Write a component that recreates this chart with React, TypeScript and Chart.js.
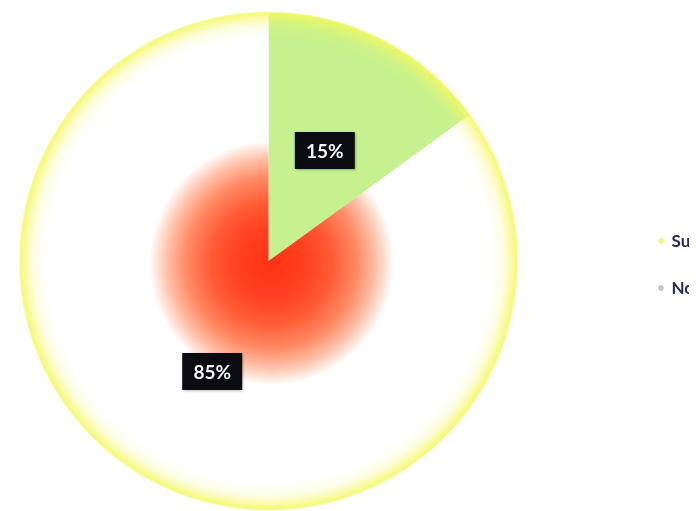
import { useEffect, useRef } from "react";
import { Chart, registerables } from "chart.js";

Chart.register(...registerables);

const categories = ["Sunny", "Not sunny"];
const values = [15, 85];
const valueLabels = ["15%", "85%"];
const legendColors = ["#f6f47e", "#c4c4d0"];
const greenColor = "#c5f28e";
const legendTextColor = "#2b2b5a";

const ringPlugin = {
  id: "ringGlow",
  afterDatasetsDraw(chart: any) {
    const meta = chart.getDatasetMeta(0);
    const arc = meta.data[0];
    if (!arc) return;
    const { x, y, outerRadius } = arc.getProps(["x", "y", "outerRadius"], true);
    const ctx = chart.ctx;
    const r0 = outerRadius - 26;
    const r1 = outerRadius + 2;
    ctx.save();
    const g = ctx.createRadialGradient(x, y, r0, x, y, r1);
    g.addColorStop(0, "rgba(245,248,100,0)");
    g.addColorStop(0.45, "rgba(245,248,100,0.16)");
    g.addColorStop(0.75, "rgba(245,248,95,0.55)");
    g.addColorStop(0.9, "rgba(244,247,90,0.8)");
    g.addColorStop(0.95, "rgba(244,247,90,0.65)");
    g.addColorStop(1, "rgba(244,247,90,0)");
    ctx.beginPath();
    ctx.arc(x, y, r1, 0, Math.PI * 2);
    ctx.arc(x, y, r0, 0, Math.PI * 2, true);
    ctx.fillStyle = g;
    ctx.fill();
    ctx.restore();
  },
};

const labelPlugin = {
  id: "valueBoxes",
  afterDatasetsDraw(chart: any) {
    const meta = chart.getDatasetMeta(0);
    const ctx = chart.ctx;
    meta.data.forEach((arc: any, i: number) => {
      const p = arc.tooltipPosition();
      const w = 60;
      const h = 37;
      ctx.save();
      ctx.shadowColor = "rgba(0,0,0,0.35)";
      ctx.shadowBlur = 3;
      ctx.shadowOffsetX = 1;
      ctx.shadowOffsetY = 1;
      ctx.fillStyle = "#0b0b12";
      ctx.fillRect(p.x - w / 2, p.y - h / 2, w, h);
      ctx.restore();
      ctx.save();
      ctx.fillStyle = "#f4f4f4";
      ctx.font = "bold 19px Lato";
      ctx.textAlign = "center";
      ctx.textBaseline = "middle";
      ctx.fillText(valueLabels[i], p.x, p.y + 1);
      ctx.restore();
    });
  },
};

export default function App() {
  const ref = useRef<HTMLCanvasElement | null>(null);
  useEffect(() => {
    if (!ref.current) return;
    const chart = new Chart(ref.current, {
      type: "pie",
      data: {
        labels: categories,
        datasets: [
          {
            data: values,
            borderWidth: 0,
            backgroundColor: (c: any) => {
              if (c.dataIndex === 0) return greenColor;
              const ca = c.chart.chartArea;
              if (!ca) return "#ffffff";
              const cx = (ca.left + ca.right) / 2 + 3;
              const cy = (ca.top + ca.bottom) / 2 + 2;
              const g = c.chart.ctx.createRadialGradient(cx, cy, 0, cx, cy, 122);
              g.addColorStop(0, "rgb(255,50,20)");
              g.addColorStop(0.3, "rgb(255,66,32)");
              g.addColorStop(0.5, "rgb(255,92,54)");
              g.addColorStop(0.7, "rgb(255,138,100)");
              g.addColorStop(0.85, "rgb(255,190,165)");
              g.addColorStop(0.95, "rgb(255,232,222)");
              g.addColorStop(1, "rgb(255,255,255)");
              return g;
            },
          },
        ],
      },
      options: {
        animation: false,
        responsive: true,
        maintainAspectRatio: false,
        layout: { padding: { top: 13, bottom: 2, left: 0, right: 0 } },
        plugins: {
          tooltip: { enabled: false },
          legend: {
            position: "right",
            maxWidth: 100,
            title: { display: true, text: " ", padding: 0, font: { size: 6 } },
            labels: {
              usePointStyle: true,
              pointStyle: "circle",
              boxWidth: 4,
              boxHeight: 4,
              padding: 30,
              color: legendTextColor,
              font: { family: "Lato", size: 17, weight: "bold" },
              generateLabels: () =>
                categories.map((c, i) => ({
                  text: c,
                  fillStyle: legendColors[i],
                  strokeStyle: legendColors[i],
                  fontColor: legendTextColor,
                  lineWidth: 0,
                  pointStyle: "circle",
                  hidden: false,
                  index: i,
                  datasetIndex: 0,
                })),
            },
          },
        },
      } as any,
      plugins: [ringPlugin, labelPlugin],
    });
    return () => chart.destroy();
  }, []);

  return (
    <div
      style={{
        position: "fixed",
        left: 0,
        top: 0,
        width: 689,
        height: 511,
        overflow: "hidden",
        background: "#ffffff",
      }}
    >
      <div style={{ position: "absolute", left: -92, top: 0, width: 821, height: 511 }}>
        <canvas ref={ref} />
      </div>
    </div>
  );
}
